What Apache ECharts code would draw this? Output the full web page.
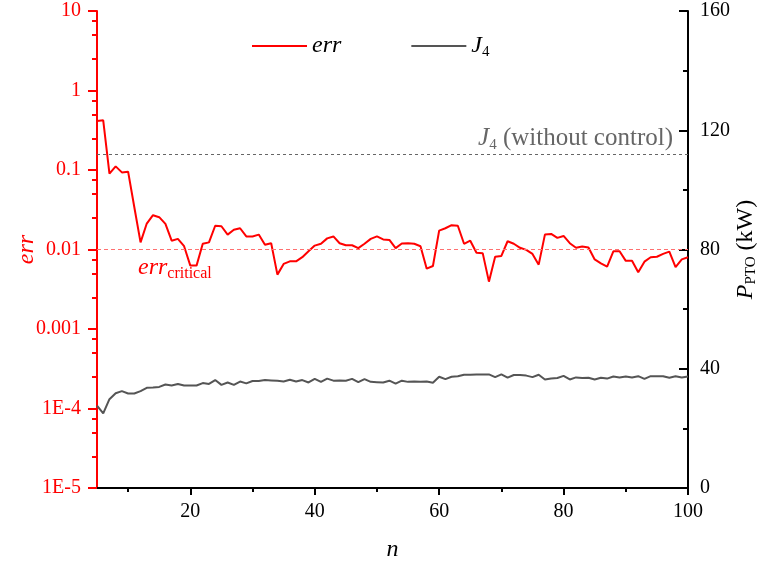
<!DOCTYPE html>
<html>
<head>
<meta charset="utf-8">
<script src="https://cdn.jsdelivr.net/npm/echarts@6/dist/echarts.min.js"></script>
<style>
  html, body { margin: 0; padding: 0; background: #fff; }
  #chart { width: 761px; height: 567px; }
</style>
</head>
<body>
<div id="chart"></div>
<script>
// Iteration index n
const nValues = [];
for (let n = 5; n <= 100; n++) nValues.push(n);

// Relative error per iteration (left, log axis)
const errValues = [
  0.414, 0.422, 0.0898, 0.111, 0.0933, 0.0952, 0.034, 0.0123, 0.0212, 0.027,
  0.0255, 0.021, 0.0129, 0.0136, 0.011, 0.00627, 0.00627, 0.0118, 0.0123, 0.0199,
  0.0196, 0.0154, 0.0177, 0.0185, 0.0146, 0.0146, 0.0154, 0.0115, 0.012, 0.00483,
  0.00658, 0.0071, 0.0071, 0.0080, 0.0095, 0.0112, 0.0118, 0.0138, 0.0146, 0.012,
  0.0113, 0.0113, 0.0104, 0.0118, 0.0136, 0.0146, 0.0134, 0.0132, 0.0104, 0.0119,
  0.012, 0.0118, 0.011, 0.00574, 0.0062, 0.0173, 0.0185, 0.0202, 0.0199, 0.0118,
  0.0129, 0.0091, 0.0090, 0.00394, 0.0081, 0.0083, 0.0127, 0.0118, 0.0105, 0.0099,
  0.0088, 0.00645, 0.0154, 0.0157, 0.014, 0.0148, 0.012, 0.0105, 0.0109, 0.0106,
  0.0075, 0.0067, 0.0061, 0.0095, 0.0095, 0.0072, 0.0072, 0.00516, 0.00703, 0.0080,
  0.0081, 0.0088, 0.0094, 0.0060, 0.0075, 0.0080
];

// Mean PTO power J4 per iteration, kW (right axis)
const j4Values = [
  27.6, 25.0, 29.8, 31.8, 32.5, 31.7, 31.7, 32.5, 33.6, 33.7,
  33.9, 34.7, 34.4, 34.9, 34.4, 34.4, 34.4, 35.2, 34.9, 36.2,
  34.6, 35.4, 34.6, 35.7, 35.1, 35.9, 35.9, 36.2, 36.1, 36.0,
  35.7, 36.3, 35.7, 36.2, 35.4, 36.6, 35.6, 36.7, 36.0, 36.1,
  36.0, 36.6, 35.5, 36.5, 35.6, 35.5, 35.4, 36.0, 35.0, 36.0,
  35.6, 35.7, 35.6, 35.7, 35.3, 37.3, 36.5, 37.3, 37.5, 38.0,
  38.0, 38.1, 38.1, 38.1, 37.2, 38.1, 37.0, 37.9, 37.9, 37.7,
  37.2, 38.0, 36.4, 36.7, 36.9, 37.6, 36.4, 37.1, 36.9, 37.0,
  36.4, 37.0, 36.7, 37.4, 37.1, 37.4, 37.1, 37.5, 36.6, 37.5,
  37.5, 37.5, 37.0, 37.5, 37.1, 37.4
];

// Reference levels
const errCritical = 0.01;
const j4WithoutControl = 112;

// Tick values and labels
const xMajorTicks = [20, 40, 60, 80, 100];
const xMinorTicks = [10, 30, 50, 70, 90];
const errTickValues = [1e-5, 1e-4, 1e-3, 1e-2, 1e-1, 1, 10];
const errTickLabels = ['1E-5', '1E-4', '0.001', '0.01', '0.1', '1', '10'];
const errMinorMantissas = [2.5, 5, 7.5];
const powerMajorTicks = [0, 40, 80, 120, 160];
const powerMinorTicks = [20, 60, 100, 140];

const FONT = '"Liberation Serif", "Times New Roman", serif';
const RED = '#ff0000';
const BLACK = '#000000';
const GREY_LINE = '#555555';

// minor tick positions of the log axis, expressed as decade exponents
const errMinorExponents = [];
for (let e = -5; e < 1; e++) {
  errMinorMantissas.forEach(m => errMinorExponents.push(e + Math.log10(m)));
}

const subRich = {
  i: { fontFamily: FONT, fontStyle: 'italic', fontSize: 24 },
  r: { fontFamily: FONT, fontSize: 24 },
  s: { fontFamily: FONT, fontSize: 15, padding: [12, 0, 0, 0] }
};

const chart = echarts.init(document.getElementById('chart'), null, { renderer: 'canvas' });

const grid = { left: 97, right: 73, top: 11, bottom: 79, containLabel: false, outerBoundsMode: 'none' };

const noZeroLine = (color, show) => ({ show: show, onZero: false, lineStyle: { color: color, width: 2 } });

chart.setOption({
  animation: false,
  backgroundColor: '#ffffff',
  grid: grid,
  legend: {
    left: 247,
    top: 29,
    icon: 'rect',
    itemWidth: 55,
    itemHeight: 2,
    itemGap: 70,
    data: ['err', 'J4'],
    formatter: name => name === 'J4' ? '{i|J}{s|4}' : '{i|err}',
    textStyle: { color: BLACK, rich: subRich }
  },
  xAxis: [
    {
      type: 'value',
      min: 5,
      max: 100,
      position: 'bottom',
      name: 'n',
      nameLocation: 'middle',
      nameGap: 50,
      nameMoveOverlap: false,
      nameTextStyle: { fontFamily: FONT, fontStyle: 'italic', fontSize: 24, color: BLACK },
      axisLine: noZeroLine(BLACK, true),
      axisTick: { show: true, customValues: xMajorTicks, length: 7, lineStyle: { color: BLACK, width: 2 } },
      axisLabel: { customValues: xMajorTicks, margin: 14, fontFamily: FONT, fontSize: 20, color: BLACK },
      splitLine: { show: false }
    },
    {
      type: 'value',
      min: 5,
      max: 100,
      position: 'bottom',
      axisLine: noZeroLine(BLACK, false),
      axisTick: { show: true, customValues: xMinorTicks, length: 4, lineStyle: { color: BLACK, width: 2 } },
      axisLabel: { show: false },
      splitLine: { show: false }
    }
  ],
  yAxis: [
    {
      type: 'log',
      logBase: 10,
      min: 1e-5,
      max: 10,
      position: 'left',
      name: 'err',
      nameLocation: 'middle',
      nameGap: 58,
      nameMoveOverlap: false,
      nameTextStyle: { fontFamily: FONT, fontStyle: 'italic', fontSize: 24, color: RED },
      axisLine: noZeroLine(RED, true),
      axisTick: { show: true, customValues: errTickValues, length: 9, lineStyle: { color: RED, width: 2 } },
      axisLabel: {
        customValues: errTickValues,
        margin: 16,
        fontFamily: FONT,
        fontSize: 20,
        color: RED,
        formatter: v => {
          const idx = errTickValues.findIndex(t => Math.abs(Math.log10(t) - Math.log10(v)) < 1e-6);
          return idx >= 0 ? errTickLabels[idx] : '';
        }
      },
      splitLine: { show: false }
    },
    {
      type: 'value',
      min: 0,
      max: 160,
      interval: 40,
      position: 'right',
      name: '{i|P}{s|PTO}{r| (kW)}',
      nameLocation: 'middle',
      nameGap: 44,
      nameMoveOverlap: false,
      nameTextStyle: { color: BLACK, rich: subRich },
      axisLine: noZeroLine(BLACK, true),
      axisTick: { show: true, inside: true, customValues: powerMajorTicks, length: 9, lineStyle: { color: BLACK, width: 2 } },
      axisLabel: { customValues: powerMajorTicks, margin: 12, fontFamily: FONT, fontSize: 20, color: BLACK },
      splitLine: { show: false }
    },
    {
      // minor ticks of the log axis (decade exponent space)
      type: 'value',
      min: -5,
      max: 1,
      position: 'left',
      axisLine: noZeroLine(RED, false),
      axisTick: { show: true, customValues: errMinorExponents, length: 5, lineStyle: { color: RED, width: 2 } },
      axisLabel: { show: false },
      splitLine: { show: false }
    },
    {
      type: 'value',
      min: 0,
      max: 160,
      position: 'right',
      axisLine: noZeroLine(BLACK, false),
      axisTick: { show: true, inside: true, customValues: powerMinorTicks, length: 5, lineStyle: { color: BLACK, width: 2 } },
      axisLabel: { show: false },
      splitLine: { show: false }
    }
  ],
  series: [
    {
      name: 'err',
      type: 'line',
      xAxisIndex: 0,
      yAxisIndex: 0,
      data: nValues.map((n, i) => [n, errValues[i]]),
      symbol: 'none',
      lineStyle: { color: RED, width: 2 },
      itemStyle: { color: RED },
      z: 3,
      markLine: {
        silent: true,
        symbol: 'none',
        lineStyle: { color: '#ff7070', type: [4, 3], width: 1 },
        label: {
          show: true,
          position: 'insideStartBottom',
          distance: [41, 4],
          formatter: '{i|err}{s2|critical}',
          color: RED,
          rich: {
            i: { fontFamily: FONT, fontStyle: 'italic', fontSize: 24, color: RED },
            s2: { fontFamily: FONT, fontSize: 16, color: RED, padding: [12, 0, 0, 0] }
          }
        },
        data: [{ yAxis: errCritical }]
      }
    },
    {
      name: 'J4',
      type: 'line',
      xAxisIndex: 0,
      yAxisIndex: 1,
      data: nValues.map((n, i) => [n, j4Values[i]]),
      symbol: 'none',
      lineStyle: { color: GREY_LINE, width: 2 },
      itemStyle: { color: GREY_LINE },
      z: 2,
      markLine: {
        silent: true,
        symbol: 'none',
        lineStyle: { color: '#666666', type: [3, 3], width: 1 },
        label: {
          show: true,
          position: 'insideEndTop',
          distance: [15, 2],
          formatter: '{i|J}{s|4}{r| (without control)}',
          color: '#666666',
          rich: {
            i: { fontFamily: FONT, fontStyle: 'italic', fontSize: 25, color: '#666666' },
            r: { fontFamily: FONT, fontSize: 25, color: '#666666' },
            s: { fontFamily: FONT, fontSize: 15, color: '#666666', padding: [12, 0, 0, 0] }
          }
        },
        data: [{ yAxis: j4WithoutControl }]
      }
    }
  ]
});
</script>
</body>
</html>
